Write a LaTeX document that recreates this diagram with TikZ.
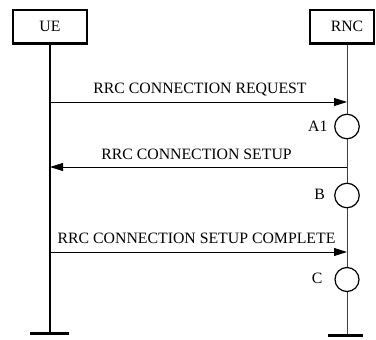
\documentclass[tikz,border=0pt]{standalone}
\usepackage{fontspec}
\setmainfont{Liberation Serif}
\usetikzlibrary{arrows.meta}
\begin{document}
\begin{tikzpicture}[x=1pt,y=1pt,
  txt/.style={font=\fontsize{15.8}{18}\selectfont, inner sep=0pt},
  entity/.style={txt, draw, line width=2.5pt, minimum height=33.5pt},
  uelife/.style={line width=2.2pt},
  rnclife/.style={line width=1pt, black!75},
  bar/.style={line width=3pt},
  msg/.style={line width=0.9pt, -{Triangle[length=13pt,width=8pt]}},
  state/.style={circle, draw, line width=1.2pt, fill=white, inner sep=0pt, minimum size=24.5pt},
  statelbl/.style={txt, anchor=base east},
  msglbl/.style={txt, anchor=base}]
\useasboundingbox (0,0) rectangle (376,-340);

% entities
\node[entity, minimum width=74pt] (ue) at (50,-26.5) {UE};
\node[entity, minimum width=64pt] (rnc) at (342,-26.5) {\hspace*{10pt}RNC};

% lifeline ends
\coordinate (ueend) at (50,-333);
\coordinate (rncend) at (347,-335);

\draw[uelife] (ue.south) -- (ueend);
\draw[rnclife] (rncend |- rnc.south) -- (rncend);
\draw[bar] ([xshift=-20pt]ueend) -- ([xshift=19pt]ueend);
\draw[bar] ([xshift=-19pt]rncend) -- ([xshift=16pt]rncend);

% message anchor points on the lifelines
\coordinate (m1u) at (50,-102);  \coordinate (m1r) at (347,-102);
\coordinate (m2u) at (50,-167);  \coordinate (m2r) at (347,-167);
\coordinate (m3u) at (50,-252);  \coordinate (m3r) at (347,-252);

\draw[msg] (m1u) -- (m1r);
\draw[msg] (m2r) -- (m2u);
\draw[msg] (m3u) -- (m3r);

\node[msglbl] (l1) at (200,-94) {RRC CONNECTION REQUEST};
\node[msglbl] (l2) at (196.5,-159.3) {RRC CONNECTION SETUP};
\node[msglbl] (l3) at (196.5,-243.3) {RRC CONNECTION SETUP COMPLETE};

% states on the RNC lifeline
\node[state] (sa) at (347,-126.5) {};
\node[state] (sb) at (347,-195.5) {};
\node[state, minimum size=24pt] (sc) at (347,-279.5) {};

\node[statelbl] (la) at (327.7,-131.7) {A1};
\node[statelbl] (lb) at (325,-200) {B};
\node[statelbl] (lc) at (322.7,-283.3) {C};
\end{tikzpicture}
\end{document}
